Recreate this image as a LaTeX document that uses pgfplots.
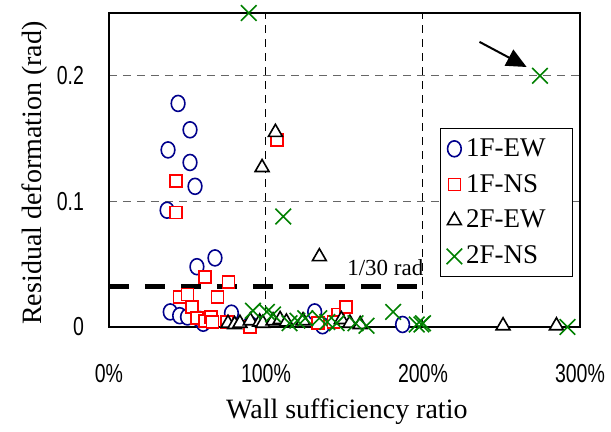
\documentclass[border=0pt]{standalone}
\usepackage{fontspec}
\setmainfont{Liberation Serif}
\newfontfamily\tickfont[FakeStretch=0.75]{Liberation Sans}
\usepackage{pgfplots}
\pgfplotsset{compat=1.18}
\usetikzlibrary{arrows.meta}

\definecolor{ewblue}{RGB}{0,0,140}
\definecolor{nsred}{RGB}{255,0,0}
\definecolor{nsgreen}{RGB}{0,128,0}

\begin{document}
\begin{tikzpicture}
\begin{axis}[
  name=ax,
  scale only axis,
  width=235.5pt, height=157pt,
  xmin=0, xmax=300, ymin=0, ymax=0.25,
  xtick={0,100,200,300}, xticklabels={0\%,100\%,200\%,300\%},
  ytick={0,0.1,0.2}, yticklabels={0,0.1,0.2},
  major tick length=0pt,
  tick label style={font=\tickfont\fontsize{13}{13}\selectfont},
  xticklabel style={yshift=-15pt},
  yticklabel style={xshift=-9pt},
  grid=major,
  x grid style={black, dash pattern=on 4pt off 3pt, line width=0.5pt},
  y grid style={black!60, dash pattern=on 4pt off 3pt, line width=0.5pt},
  axis line style={line width=0.8pt},
  xlabel={Wall sufficiency ratio},
  ylabel={Residual deformation (rad)},
  label style={font=\fontsize{14}{14}\selectfont},
  xlabel style={at={(axis description cs:0.505,-0.27)}, anchor=center},
  ylabel style={at={(axis description cs:-0.157,0.49)}, anchor=center},
  clip=false,
  legend style={at={(axis description cs:0.703,0.634)}, anchor=north west,
    draw=black, line width=0.5pt, font=\fontsize{13.5}{13.5}\selectfont,
    row sep=3.5pt, inner xsep=3pt, inner ysep=3pt},
  legend cell align=left,
]
% 1/30 rad limit line
\addplot[black, line width=2.5pt, dash pattern=on 10pt off 8pt, forget plot]
  coordinates {(0,0.032) (198,0.032)};

\addplot[ewblue, only marks, mark=*, mark options={fill=white, line width=0.8pt, xscale=0.9, yscale=1.05}, mark size=3.8pt] coordinates {
(44,0.178) (37.6,0.141) (51.6,0.157) (51.6,0.131) (54.8,0.112) (37,0.093)
(56,0.048) (67.5,0.055) (39,0.012) (45,0.009) (50,0.008) (58,0.006)
(60,0.003) (78,0.011) (90,0.002) (131,0.012) (136,0.001) (187,0.002)
};
\addlegendentry{\makebox[48pt][l]{1F-EW}}

\addplot[nsred, only marks, mark=square*, mark options={fill=white, line width=0.8pt}, mark size=3pt] coordinates {
(42.7,0.116) (42.7,0.091) (107,0.149) (61,0.040) (76,0.036) (45,0.024)
(50,0.026) (69,0.024) (53,0.016) (56,0.007) (61,0.005) (65,0.008)
(66,0.004) (75,0.004) (90,0.000) (133,0.003) (146,0.010) (151,0.016)
(143,0.004)
};
\addlegendentry{\color{black}1F-NS}

\addplot[black, only marks, mark=triangle*, mark options={fill=white, line width=0.8pt}, mark size=4pt] coordinates {
(106,0.155) (97.5,0.127) (134,0.056) (251,0.001) (285,0.001)
(75.8,0.003) (80,0.002) (83.4,0.003) (90,0.005) (96,0.004) (98,0.003)
(104.5,0.005) (109,0.006) (113,0.004) (123.6,0.005) (148,0.006)
(153.5,0.003) (160,0.002)
};
\addlegendentry{2F-EW}

\addplot[nsgreen, only marks, mark=x, mark options={line width=0.8pt}, mark size=5.5pt] coordinates {
(89,0.25) (274.5,0.2) (111,0.088)
(91.7,0.013) (100.6,0.012) (104.5,0.010) (115,0.003) (120,0.005)
(125,0.007) (134,0.007) (139,0.004) (145,0.003) (157,0.003) (164,0.001)
(181,0.012) (196,0.002) (199,0.002) (200,0.003) (292,0.0)
};
\addlegendentry{\color{black}2F-NS}

\node[font=\fontsize{11.5}{11.5}\selectfont] at (axis cs:176,0.047) {1/30 rad};
\draw[-{Triangle[length=10pt,width=9pt]}, line width=1pt]
  (axis cs:236,0.227) -- (axis cs:266,0.207);
\end{axis}
\pgfresetboundingbox
\path ([xshift=-54.5pt,yshift=-52.5pt]ax.south west) rectangle ([xshift=15.5pt,yshift=6.5pt]ax.north east);
\end{tikzpicture}
\end{document}
